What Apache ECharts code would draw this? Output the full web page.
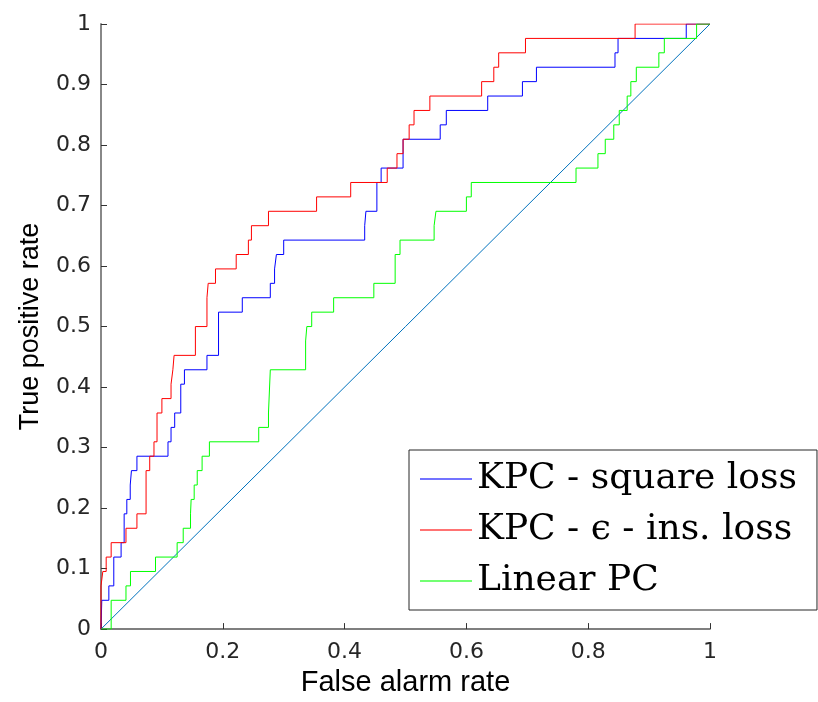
<!DOCTYPE html>
<html>
<head>
<meta charset="utf-8">
<script src="https://cdn.jsdelivr.net/npm/echarts@6/dist/echarts.min.js"></script>
<style>
  html, body { margin: 0; padding: 0; background: #fff; }
  #main { width: 818px; height: 702px; }
</style>
</head>
<body>
<div id="main"></div>
<script>
// ROC staircases: x = false alarm rate where the curve rises, k = positives reached (of 42)
var nPos = 42;
var sqX = [0.0013, 0.0129, 0.021, 0.033, 0.038, 0.0424, 0.048, 0.050, 0.059, 0.110, 0.115, 0.121, 0.131, 0.137, 0.174, 0.193, 0.232, 0.278, 0.285, 0.288, 0.300, 0.433, 0.435, 0.453, 0.460, 0.496, 0.557, 0.567, 0.635, 0.692, 0.715, 0.844, 0.849, 0.961];
var sqK = [2, 3, 5, 6, 8, 9, 10, 11, 12, 13, 14, 15, 17, 18, 19, 22, 23, 24, 25, 26, 27, 28, 29, 31, 32, 34, 35, 36, 37, 38, 39, 40, 41, 42];
var epsX = [0, 0.003, 0.0085, 0.0167, 0.041, 0.059, 0.074, 0.080, 0.087, 0.092, 0.100, 0.115, 0.118, 0.120, 0.155, 0.174, 0.176, 0.188, 0.222, 0.242, 0.247, 0.275, 0.354, 0.410, 0.470, 0.486, 0.496, 0.506, 0.514, 0.540, 0.625, 0.645, 0.653, 0.697, 0.877];
var epsK = [3, 4, 5, 6, 7, 8, 11, 12, 13, 15, 16, 17, 18, 19, 21, 23, 24, 25, 26, 27, 28, 29, 30, 31, 32, 33, 34, 35, 36, 37, 38, 39, 40, 41, 42];
var linX = [0.0167, 0.041, 0.0484, 0.0895, 0.125, 0.135, 0.147, 0.148, 0.153, 0.158, 0.166, 0.178, 0.259, 0.275, 0.278, 0.336, 0.338, 0.346, 0.382, 0.448, 0.483, 0.491, 0.547, 0.550, 0.600, 0.608, 0.780, 0.816, 0.828, 0.842, 0.851, 0.864, 0.870, 0.879, 0.916, 0.925, 0.978];
var linK = [2, 3, 4, 5, 6, 7, 8, 9, 10, 11, 12, 13, 14, 15, 18, 20, 21, 22, 23, 24, 26, 27, 28, 29, 30, 31, 32, 33, 34, 35, 36, 37, 38, 39, 40, 41, 42];
var chance = [[0, 0], [1, 1]];
var names = ['KPC - square loss', 'KPC - \u03f5 - ins. loss', 'Linear PC'];

function staircase(xs, ks) {
  var pts = [[0, 0]], prev = 0;
  for (var i = 0; i < xs.length; i++) {
    pts.push([xs[i], prev / nPos]);
    pts.push([xs[i], ks[i] / nPos]);
    prev = ks[i];
  }
  pts.push([1, prev / nPos]);
  return pts;
}

var sansFont = 'Liberation Sans, Helvetica, Arial, sans-serif';
var chart = echarts.init(document.getElementById('main'));

function lineSeries(name, data, color) {
  return {
    name: name, type: 'line', data: data, symbol: 'none',
    lineStyle: { color: color, width: 1 }, itemStyle: { color: color }, z: 3
  };
}

function tickFmt(v) { return String(+v.toFixed(1)); }

chart.setOption({
  animation: false,
  grid: { left: 101, right: 108, top: 24, bottom: 71 },
  xAxis: {
    type: 'value', min: 0, max: 1, interval: 0.2,
    name: 'False alarm rate', nameLocation: 'middle', nameGap: 36,
    nameTextStyle: { fontSize: 29, color: '#000', fontFamily: sansFont },
    axisLine: { lineStyle: { color: '#555', width: 1.5 } },
    axisTick: { inside: true, length: 6, lineStyle: { color: '#333' } },
    axisLabel: { fontSize: 22, color: '#262626', margin: 12, fontFamily: 'DejaVu Sans, sans-serif', formatter: tickFmt },
    splitLine: { show: false }
  },
  yAxis: {
    type: 'value', min: 0, max: 1, interval: 0.1,
    name: 'True positive rate', nameLocation: 'middle', nameGap: 57,
    nameTextStyle: { fontSize: 27, color: '#000', fontFamily: sansFont },
    axisLine: { show: true, lineStyle: { color: '#888', width: 2 } },
    axisTick: { show: true, inside: true, length: 6, lineStyle: { color: '#333' } },
    axisLabel: { fontSize: 22, color: '#262626', margin: 10, fontFamily: 'DejaVu Sans, sans-serif', formatter: tickFmt },
    splitLine: { show: false }
  },
  legend: {
    data: names, orient: 'vertical', left: 409, top: 450,
    padding: [9, 20, 9, 11], itemWidth: 52, itemHeight: 2, itemGap: 11,
    icon: 'rect', itemStyle: { opacity: 0.55 },
    borderColor: '#262626', borderWidth: 1, backgroundColor: '#fff',
    textStyle: { fontSize: 36, lineHeight: 40, color: '#000', fontFamily: 'DejaVu Serif, serif' }
  },
  series: [
    lineSeries(names[0], staircase(sqX, sqK), '#0000ff'),
    lineSeries(names[1], staircase(epsX, epsK), '#ff0000'),
    lineSeries(names[2], staircase(linX, linK), '#00ff00'),
    { name: 'chance', type: 'line', data: chance, symbol: 'none', z: 2,
      lineStyle: { color: '#0072bd', width: 1 } }
  ]
});
</script>
</body>
</html>
